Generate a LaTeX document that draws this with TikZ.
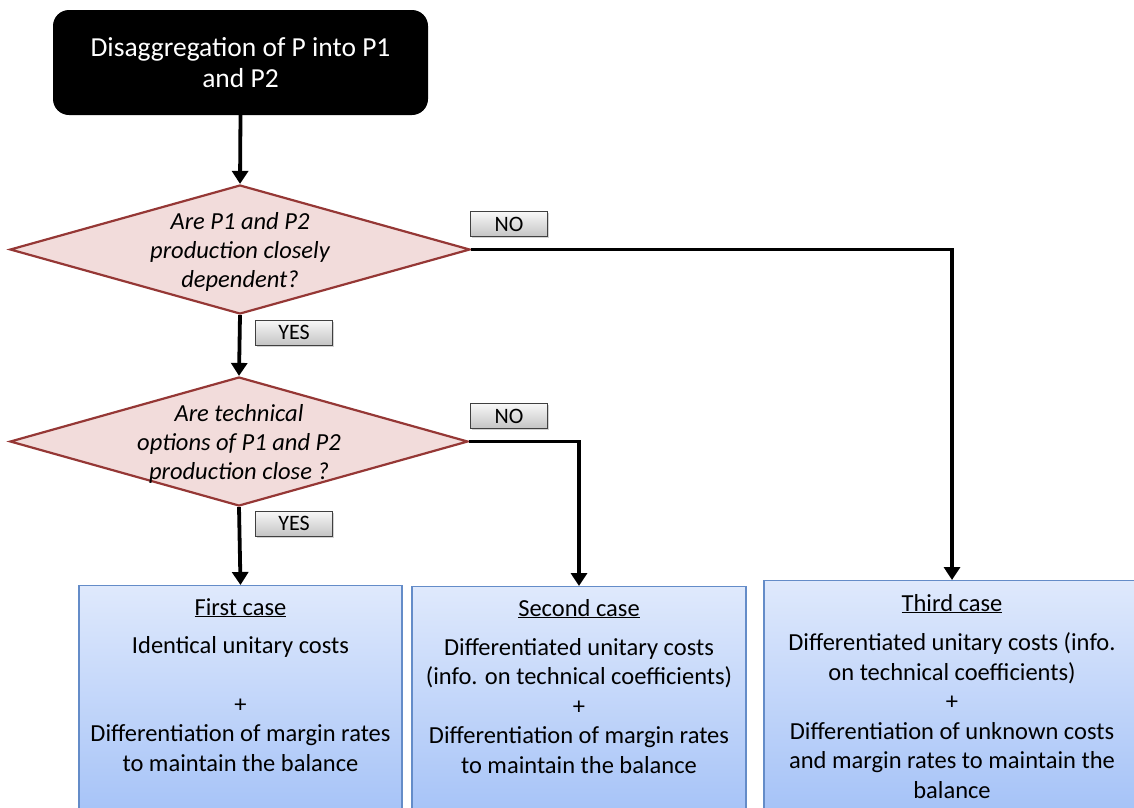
\documentclass[tikz,border=0pt]{standalone}
\usepackage{fontspec}
\setmainfont{Carlito}
\usetikzlibrary{shapes.geometric,arrows.meta,shadows}
\definecolor{dfill}{RGB}{242,220,219}
\definecolor{ddraw}{RGB}{149,55,53}
\definecolor{ctop}{RGB}{223,233,252}
\definecolor{cbot}{RGB}{163,193,247}
\definecolor{cdraw}{RGB}{100,140,200}
\definecolor{ttop}{RGB}{248,248,248}
\definecolor{tbot}{RGB}{196,196,196}
\begin{document}
\begin{tikzpicture}[x=1pt,y=-1pt,
  conn/.style={line width=3.8pt,-{Triangle[width=16pt,length=13pt]}},
  startbox/.style={rectangle,rounded corners=16pt,fill=black,text=white,
    minimum width=375pt,minimum height=105pt,align=center,inner sep=0pt,
    font=\fontsize{27.5}{31}\selectfont},
  decision/.style={diamond,draw=ddraw,fill=dfill,line width=2.2pt,inner sep=0pt},
  qtext/.style={align=center,inner sep=0pt,font=\fontsize{24.5}{29}\selectfont\itshape},
  tag/.style={rectangle,draw=black!75,line width=0.9pt,top color=ttop,bottom color=tbot,
    minimum width=77pt,minimum height=25pt,inner sep=0pt,
    font=\fontsize{22}{22}\selectfont,
    drop shadow={shadow xshift=1.5pt,shadow yshift=-1.5pt,opacity=0.35}},
  casebox/.style={rectangle,draw=cdraw,line width=1.4pt,top color=ctop,bottom color=cbot,
    inner sep=0pt,anchor=north,minimum height=240pt},
  casetitle/.style={inner sep=0pt,anchor=base,font=\fontsize{24.5}{29}\selectfont},
  casebody/.style={inner sep=0pt,anchor=north,align=center,font=\fontsize{24.5}{29.5}\selectfont}
]
\useasboundingbox (0,0) rectangle (1134,807);

\node[startbox] (start) at (240.5,62.5) {Disaggregation of P into P1\\and P2};

\node[decision,minimum width=460pt,minimum height=129pt] (d1) at (240,249.5) {};
\node[qtext] (q1) at ([yshift=-2pt]d1.center) {Are P1 and P2\\production closely\\dependent?};

\node[decision,minimum width=458pt,minimum height=129pt] (d2) at (239,441.5) {};
\node[qtext] (q2) at ([yshift=-2pt]d2.center) {Are technical\\options of P1 and P2\\production close ?};

\node[tag] (no1) at (509,224) {NO};
\node[tag] (yes1) at (294,332.5) {YES};
\node[tag] (no2) at (509,416) {NO};
\node[tag] (yes2) at (294,523.5) {YES};

\node[casebox,minimum width=323pt] (c1) at (240.5,585) {};
\node[casebox,minimum width=334pt] (c2) at (579,586) {};
\node[casebox,minimum width=376pt] (c3) at (952,580) {};

\node[casetitle] (t1) at (240.5,615) {\underline{First case}};
\node[casetitle] (t2) at (579,616) {\underline{Second case}};
\node[casetitle] (t3) at (952,611) {\underline{Third case}};

\node[casebody] (b1) at (240.5,635.8) {Identical unitary costs\\\mbox{}\\+\\Differentiation of margin rates\\to maintain the balance};
\node[casebody] (b2) at (579,637.8) {Differentiated unitary costs\\(info. on technical coefficients)\\+\\Differentiation of margin rates\\to maintain the balance};
\node[casebody] (b3) at (952,632.8) {Differentiated unitary costs (info.\\on technical coefficients)\\+\\Differentiation of unknown costs\\and margin rates to maintain the\\balance};

\draw[conn] (start.south) -- (d1.north);
\draw[conn] (d1.south) -- (d2.north);
\draw[conn] (d2.south) -- (c1.north);
\draw[conn] (d1.east) -| (c3.north);
\draw[conn] (d2.east) -| (c2.north);
\end{tikzpicture}
\end{document}
